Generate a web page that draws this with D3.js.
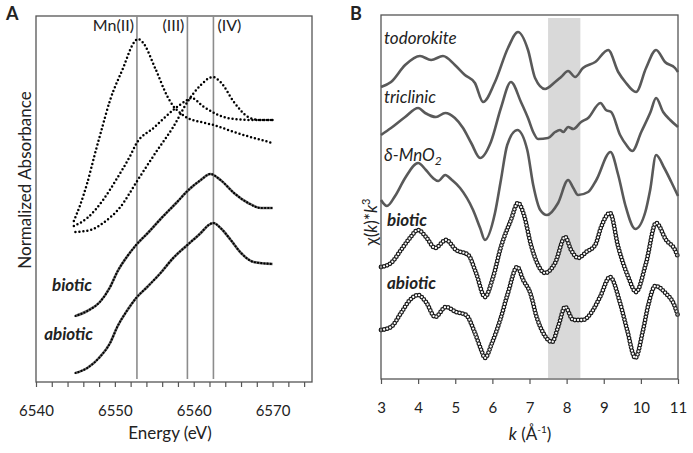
<!DOCTYPE html>
<html><head><meta charset="utf-8">
<script src="https://cdn.jsdelivr.net/npm/d3@7"></script>
<style>
body{margin:0;background:#fff}
svg{display:block}
text{font-family:Lato,"Open Sans",sans-serif;fill:#222}
</style>
</head><body>
<svg id="c" width="693" height="453"></svg>
<script>
// ---------- Panel A : XANES (energy in eV, normalized absorbance with offsets) ----------
const mn2E = [6544.8, 6545.6, 6546.5, 6547.5, 6548.2, 6549.4, 6551.1, 6552.3, 6552.9, 6553.5, 6555.1, 6556.7, 6557.5, 6558.3, 6559.2, 6560.9, 6562.5, 6565.1, 6570];
const mn2A = [1.61, 1.77, 1.99, 2.29, 2.49, 2.82, 3.15, 3.38, 3.43, 3.40, 3.14, 2.85, 2.75, 2.69, 2.64, 2.60, 2.57, 2.50, 2.39];
const mn3E = [6544.8, 6546.5, 6548.5, 6550.3, 6552.0, 6552.7, 6554.9, 6557.4, 6559.2, 6559.7, 6561.3, 6564.3, 6567.2, 6570];
const mn3A = [1.56, 1.64, 1.82, 2.04, 2.27, 2.38, 2.54, 2.72, 2.82, 2.84, 2.75, 2.64, 2.62, 2.62];
const mn4E = [6545, 6546.9, 6548.5, 6550.7, 6552.9, 6555.4, 6557.4, 6559.2, 6560.9, 6562.4, 6563.4, 6565.1, 6566.9, 6568.3, 6570];
const mn4A = [1.50, 1.52, 1.59, 1.75, 2.02, 2.32, 2.55, 2.80, 2.97, 3.05, 3.00, 2.80, 2.65, 2.62, 2.62];
const bioE = [6545, 6546.5, 6548.1, 6549.4, 6550.3, 6551.6, 6552.7, 6554.3, 6555.8, 6557.9, 6559.2, 6560.9, 6562.1, 6563.4, 6565.1, 6566.9, 6568.5, 6570];
const bioA = [0.66, 0.71, 0.80, 0.95, 1.10, 1.26, 1.37, 1.50, 1.63, 1.80, 1.91, 2.02, 2.08, 2.02, 1.89, 1.79, 1.74, 1.74];
const abiE = [6545, 6546.5, 6548.1, 6549.4, 6550.3, 6551.6, 6552.7, 6554.1, 6555.8, 6557.4, 6559.2, 6560.9, 6561.9, 6562.5, 6563.4, 6564.7, 6566.0, 6567.6, 6570];
const abiA = [0.09, 0.14, 0.25, 0.39, 0.55, 0.72, 0.84, 0.95, 1.09, 1.24, 1.37, 1.49, 1.57, 1.59, 1.54, 1.42, 1.29, 1.20, 1.18];
const oxLines = [6552.8, 6559.2, 6562.5];
const oxLabels = ["Mn(II)", "(III)", "(IV)"];
const energyTicks = [6540, 6550, 6560, 6570];

// ---------- Panel B : EXAFS chi(k)*k^3 with offsets ----------
const todoK = [3.0, 3.27, 3.65, 4.05, 4.35, 4.67, 4.99, 5.26, 5.53, 5.75, 6.07, 6.42, 6.69, 6.96, 7.15, 7.42, 7.69, 7.85, 8.04, 8.23, 8.44, 8.77, 9.12, 9.39, 9.58, 9.87, 10.14, 10.41, 10.65, 10.92, 11.0];
const todoChi = [2.92, 2.97, 3.14, 3.23, 3.19, 3.23, 3.14, 3.04, 2.96, 2.77, 2.97, 3.31, 3.47, 3.29, 3.01, 2.90, 2.97, 3.02, 3.08, 3.02, 3.11, 3.17, 3.29, 3.07, 2.97, 2.87, 3.11, 3.29, 3.17, 3.11, 3.07];
const tricK = [3.0, 3.27, 3.65, 4.0, 4.19, 4.48, 4.73, 4.99, 5.21, 5.43, 5.67, 5.96, 6.23, 6.50, 6.77, 6.96, 7.10, 7.23, 7.50, 7.69, 7.82, 7.91, 8.04, 8.18, 8.39, 8.58, 8.91, 9.06, 9.20, 9.44, 9.61, 9.77, 10.01, 10.26, 10.41, 10.60, 10.79, 11.0];
const tricChi = [2.44, 2.51, 2.62, 2.71, 2.66, 2.62, 2.66, 2.61, 2.51, 2.36, 2.21, 2.37, 2.71, 2.97, 2.77, 2.61, 2.47, 2.40, 2.41, 2.47, 2.49, 2.47, 2.52, 2.50, 2.57, 2.61, 2.76, 2.69, 2.67, 2.44, 2.34, 2.28, 2.47, 2.67, 2.81, 2.67, 2.59, 2.52];
const deltaK = [3.0, 3.16, 3.38, 3.65, 4.0, 4.21, 4.40, 4.54, 4.73, 4.91, 5.13, 5.48, 5.67, 5.80, 6.07, 6.23, 6.40, 6.67, 6.94, 7.10, 7.29, 7.47, 7.77, 8.04, 8.18, 8.31, 8.58, 8.80, 9.18, 9.39, 9.58, 9.85, 10.12, 10.25, 10.41, 10.63, 10.82, 11.0];
const deltaChi = [1.79, 1.73, 1.83, 2.01, 2.16, 2.09, 2.01, 1.98, 2.04, 1.99, 1.91, 1.69, 1.51, 1.39, 1.66, 1.99, 2.34, 2.49, 2.29, 1.94, 1.69, 1.64, 1.76, 1.99, 1.91, 1.84, 1.87, 1.99, 2.27, 2.04, 1.74, 1.50, 1.67, 1.89, 2.24, 2.11, 1.97, 1.83];
const bioK = [3.0, 3.27, 3.54, 3.78, 4.0, 4.21, 4.46, 4.75, 5.02, 5.35, 5.56, 5.80, 6.02, 6.23, 6.50, 6.69, 6.85, 7.04, 7.23, 7.42, 7.69, 7.96, 8.12, 8.31, 8.53, 8.77, 8.93, 9.17, 9.39, 9.66, 9.87, 10.14, 10.41, 10.68, 10.92, 11.0];
const bioChi = [1.12, 1.16, 1.29, 1.41, 1.49, 1.42, 1.31, 1.39, 1.29, 1.24, 1.06, 0.82, 1.02, 1.32, 1.59, 1.76, 1.64, 1.34, 1.14, 1.06, 1.16, 1.42, 1.29, 1.21, 1.27, 1.34, 1.52, 1.66, 1.32, 1.02, 0.87, 1.16, 1.56, 1.39, 1.29, 1.22];
const abiK = [3.0, 3.27, 3.54, 3.78, 4.0, 4.21, 4.46, 4.75, 5.02, 5.29, 5.53, 5.70, 5.80, 5.99, 6.21, 6.42, 6.67, 6.83, 7.02, 7.20, 7.37, 7.61, 7.77, 7.96, 8.18, 8.44, 8.66, 8.90, 9.17, 9.44, 9.63, 9.85, 10.06, 10.20, 10.39, 10.66, 10.92, 11.0];
const abiChi = [0.49, 0.52, 0.66, 0.79, 0.84, 0.77, 0.62, 0.72, 0.67, 0.64, 0.46, 0.29, 0.21, 0.36, 0.59, 0.86, 1.12, 0.99, 0.86, 0.61, 0.46, 0.37, 0.52, 0.72, 0.59, 0.59, 0.66, 0.82, 1.02, 0.76, 0.49, 0.21, 0.49, 0.74, 0.93, 0.86, 0.72, 0.63];
const shadeK = [7.5, 8.37];
const kTicks = [3, 4, 5, 6, 7, 8, 9, 10, 11];

const zip = (a, b) => a.map((v, i) => [v, b[i]]);
const svg = d3.select("#c");
const frameCol = "#555";

// ================= Panel A =================
const xA = d3.scaleLinear().domain([6540, 6575]).range([36, 312]);
const yA = d3.scaleLinear().domain([0, 3.66]).range([382, 16]);
const gA = svg.append("g");

gA.append("rect").attr("x", xA(6540)).attr("y", yA(3.66))
  .attr("width", xA(6575) - xA(6540)).attr("height", yA(0) - yA(3.66))
  .attr("fill", "none").attr("stroke", frameCol).attr("stroke-width", 1.3);

gA.selectAll("line.ox").data(oxLines).join("line").attr("class", "ox")
  .attr("x1", d => xA(d)).attr("x2", d => xA(d))
  .attr("y1", yA(3.66)).attr("y2", yA(0.03))
  .attr("stroke", "#8c8c8c").attr("stroke-width", 1.6);

gA.selectAll("text.ox").data(oxLabels).join("text").attr("class", "ox")
  .attr("x", (d, i) => i < 2 ? xA(oxLines[i]) - 3 : xA(oxLines[i]) + 4)
  .attr("y", 31).attr("text-anchor", (d, i) => i < 2 ? "end" : "start")
  .attr("font-size", 16).text(d => d);

const axA = d3.axisBottom(xA).tickValues(d3.range(6540, 6575, 2)).tickSize(5).tickSizeOuter(0)
  .tickPadding(18).tickFormat(d => energyTicks.includes(d) ? d : "");
const gAx = gA.append("g").attr("transform", `translate(0,${yA(0)})`).call(axA);
gAx.select(".domain").remove();
gAx.selectAll(".tick line").attr("stroke", frameCol).attr("stroke-width", 1.2);
gAx.selectAll(".tick text").attr("font-size", 15).attr("font-family", "Lato").attr("fill", "#222");

const lineA = d3.line().x(d => xA(d[0])).y(d => yA(d[1])).curve(d3.curveMonotoneX);
[[mn2E, mn2A], [mn3E, mn3A], [mn4E, mn4A]].forEach(([e, a]) => {
  gA.append("path").attr("d", lineA(zip(e, a))).attr("fill", "none")
    .attr("stroke", "#000").attr("stroke-width", 2.5).attr("stroke-linecap", "round")
    .attr("stroke-dasharray", "0 4");
});
[[bioE, bioA], [abiE, abiA]].forEach(([e, a]) => {
  gA.append("path").attr("d", lineA(zip(e, a))).attr("fill", "none")
    .attr("stroke", "#666").attr("stroke-width", 2.6);
  gA.append("path").attr("d", lineA(zip(e, a))).attr("fill", "none")
    .attr("stroke", "#000").attr("stroke-width", 2.2).attr("stroke-linecap", "round")
    .attr("stroke-dasharray", "0 3.2");
});

gA.append("text").attr("x", 92).attr("y", 291).attr("text-anchor", "end")
  .attr("font-size", 17).attr("font-weight", "bold").attr("font-style", "italic").text("biotic");
gA.append("text").attr("x", 93).attr("y", 340).attr("text-anchor", "end")
  .attr("font-size", 17).attr("font-weight", "bold").attr("font-style", "italic").text("abiotic");

gA.append("text").attr("transform", "translate(31,180) rotate(-90)").attr("text-anchor", "middle")
  .attr("font-size", 17).text("Normalized Absorbance");
gA.append("text").attr("x", 170).attr("y", 439).attr("text-anchor", "middle")
  .attr("font-size", 17).text("Energy (eV)");
svg.append("text").attr("x", 6).attr("y", 20).attr("font-family", "Liberation Sans, Arial, sans-serif")
  .attr("font-weight", "bold").attr("font-size", 18).text("A");

// ================= Panel B =================
const xB = d3.scaleLinear().domain([3, 11]).range([381, 678]);
const yB = d3.scaleLinear().domain([0, 3.64]).range([379, 15]);
const gB = svg.append("g");

gB.append("rect").attr("x", xB(shadeK[0])).attr("y", yB(3.61))
  .attr("width", xB(shadeK[1]) - xB(shadeK[0])).attr("height", yB(0.01) - yB(3.61))
  .attr("fill", "#d9d9d9");

const axB = d3.axisBottom(xB).tickValues(kTicks).tickSize(5).tickSizeOuter(0).tickPadding(18);
const gBx = gB.append("g").attr("transform", `translate(0,${yB(0)})`).call(axB);
gBx.select(".domain").remove();
gBx.selectAll(".tick line").attr("stroke", frameCol).attr("stroke-width", 1.2);
gBx.selectAll(".tick text").attr("font-size", 15).attr("font-family", "Lato").attr("fill", "#222");

const lineB = d3.line().x(d => xB(d[0])).y(d => yB(d[1])).curve(d3.curveMonotoneX);
[[todoK, todoChi], [tricK, tricChi], [deltaK, deltaChi]].forEach(([k, c]) => {
  gB.append("path").attr("d", lineB(zip(k, c))).attr("fill", "none")
    .attr("stroke", "#595959").attr("stroke-width", 2.6).attr("stroke-linejoin", "round");
});
[[bioK, bioChi], [abiK, abiChi]].forEach(([k, c]) => {
  const d = lineB(zip(k, c));
  gB.append("path").attr("d", d).attr("fill", "none").attr("stroke", "#111").attr("stroke-width", 1.8);
  gB.append("path").attr("d", d).attr("fill", "none").attr("stroke", "#1a1a1a").attr("stroke-width", 4.8)
    .attr("stroke-linecap", "round").attr("stroke-dasharray", "0 3.2");
  gB.append("path").attr("d", d).attr("fill", "none").attr("stroke", "#fff").attr("stroke-width", 2.3)
    .attr("stroke-linecap", "round").attr("stroke-dasharray", "0 3.2");
});

gB.append("rect").attr("x", xB(3)).attr("y", yB(3.64))
  .attr("width", xB(11) - xB(3)).attr("height", yB(0) - yB(3.64))
  .attr("fill", "none").attr("stroke", frameCol).attr("stroke-width", 1.3);

const it = (x, y, t, bold) => gB.append("text").attr("x", x).attr("y", y)
  .attr("font-size", 17).attr("font-style", "italic").attr("font-weight", bold ? "bold" : "normal").text(t);
it(384, 44, "todorokite");
it(384, 103, "triclinic");
const dl = it(384, 161, "δ-MnO");
dl.append("tspan").attr("font-size", 12).attr("dy", 4).text("2");
it(387, 226, "biotic", true);
it(387, 289, "abiotic", true);

const yl = gB.append("text").attr("transform", "translate(377,222) rotate(-90)").attr("text-anchor", "middle")
  .attr("font-size", 17);
yl.append("tspan").text("χ(");
yl.append("tspan").attr("font-style", "italic").text("k");
yl.append("tspan").text(")*");
yl.append("tspan").attr("font-style", "italic").text("k");
yl.append("tspan").attr("font-size", 11).attr("dy", -7).text("3");

const xl = gB.append("text").attr("x", 530).attr("y", 440).attr("text-anchor", "middle").attr("font-size", 17);
xl.append("tspan").attr("font-style", "italic").text("k");
xl.append("tspan").text(" (Å");
xl.append("tspan").attr("font-size", 10).attr("dy", -7).text("-1");
xl.append("tspan").attr("dy", 7).text(")");

svg.append("text").attr("x", 350).attr("y", 20).attr("font-family", "Liberation Sans, Arial, sans-serif")
  .attr("font-weight", "bold").attr("font-size", 18).text("B");
</script>
</body></html>
